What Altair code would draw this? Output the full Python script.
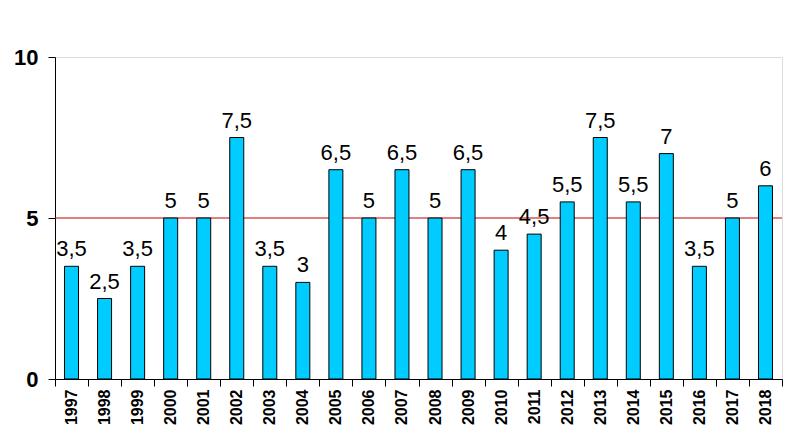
import altair as alt
import pandas as pd

years = [str(y) for y in range(1997, 2019)]
values = [3.5, 2.5, 3.5, 5, 5, 7.5, 3.5, 3, 6.5, 5, 6.5, 5, 6.5, 4, 4.5, 5.5, 7.5, 5.5, 7, 3.5, 5, 6]
labels = [("%g" % v).replace(".", ",") for v in values]
ref_value = [5]

df = pd.DataFrame({"year": years, "value": values, "label": labels})
ref = pd.DataFrame({"y": ref_value})

x = alt.X("year:N", sort=years, title=None,
          scale=alt.Scale(paddingInner=0, paddingOuter=0),
          axis=alt.Axis(labelAngle=-90, labelFont="Liberation Sans", labelFontWeight="bold",
                        labelFontSize=16, labelColor="black", tickBand="extent",
                        tickColor="black", tickSize=7, domainColor="black",
                        labelPadding=3, labelAlign="right", labelBaseline="middle"))
y = alt.Y("value:Q", title=None,
          scale=alt.Scale(domain=[0, 10], nice=False),
          axis=alt.Axis(values=[0, 5, 10], grid=False, labelFont="Liberation Sans",
                        labelFontWeight="bold", labelFontSize=22, labelColor="black",
                        tickColor="black", tickSize=7, domainColor="black", labelPadding=10))

bars = alt.Chart(df).mark_bar(color="#00CCFF", stroke="black", strokeWidth=1, width=14).encode(x=x, y=y)
text = alt.Chart(df).mark_text(baseline="alphabetic", dy=-10, font="Liberation Sans",
                                fontSize=22, color="black").encode(x=alt.X("year:N", sort=years),
                                                                   y="value:Q", text="label:N")
rule = alt.Chart(ref).mark_rule(color="#C00000", strokeWidth=1).encode(y="y:Q")

chart = alt.layer(rule, bars, text).properties(
    width=727, height=322,
    padding={"left": 47, "top": 49, "right": 10, "bottom": 60},
    autosize=alt.AutoSizeParams(type="none")
).configure_view(stroke="#888888", strokeWidth=1).configure(background="white")

chart.save("out.html", embed_options={"renderer": "svg", "actions": False})
